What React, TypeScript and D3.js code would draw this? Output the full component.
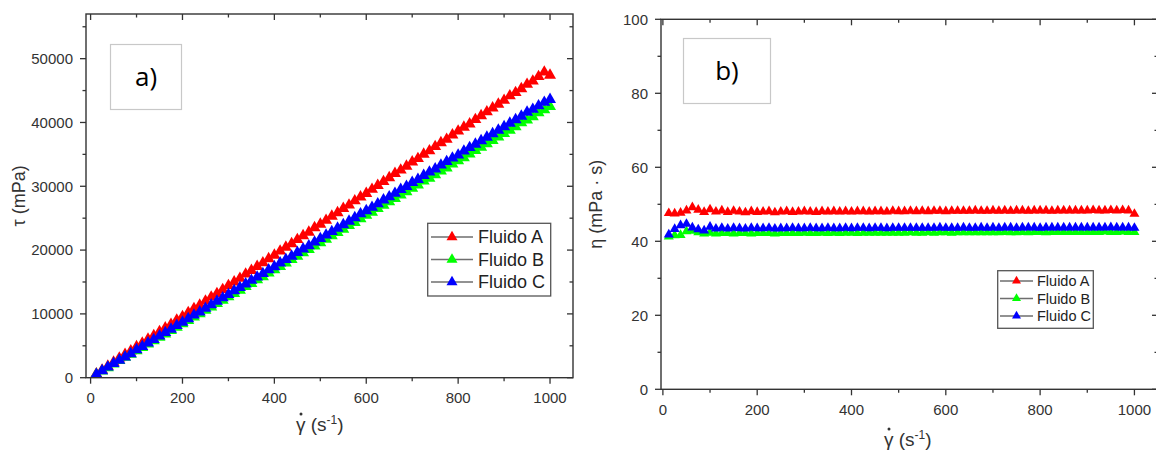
import React from 'react';
import * as d3 from 'd3';

// ---- data ----
const shearRate = [12.5, 25, 37.5, 50, 62.5, 75, 87.5, 100, 112.5, 125, 137.5, 150, 162.5, 175, 187.5, 200, 212.5, 225, 237.5, 250, 262.5, 275, 287.5, 300, 312.5, 325, 337.5, 350, 362.5, 375, 387.5, 400, 412.5, 425, 437.5, 450, 462.5, 475, 487.5, 500, 512.5, 525, 537.5, 550, 562.5, 575, 587.5, 600, 612.5, 625, 637.5, 650, 662.5, 675, 687.5, 700, 712.5, 725, 737.5, 750, 762.5, 775, 787.5, 800, 812.5, 825, 837.5, 850, 862.5, 875, 887.5, 900, 912.5, 925, 937.5, 950, 962.5, 975, 987.5, 1000];

const tauA = [595, 1188, 1789, 2415, 3075, 3638, 4191, 4860, 5400, 6038, 6586, 7230, 7800, 8365, 9019, 9580, 10200, 10823, 11353, 12000, 12626, 13173, 13800, 14430, 15000, 15568, 16234, 16800, 17436, 18000, 18639, 19200, 19841, 20443, 21000, 21645, 22246, 22800, 23498, 24050, 24651, 25305, 25854, 26510, 27056, 27715, 28318, 28860, 29523, 30125, 30728, 31330, 31999, 32535, 33138, 33810, 34343, 35018, 35548, 36225, 36829, 37355, 38036, 38640, 39244, 39765, 40451, 41055, 41659, 42263, 42866, 43470, 44165, 44678, 45281, 45980, 46489, 47190, 47900, 47400];
const tauB = [516, 1040, 1564, 2135, 2675, 3180, 3684, 4230, 4736, 5275, 5803, 6315, 6858, 7385, 7894, 8440, 8968, 9495, 9999, 10550, 11078, 11605, 12133, 12690, 13188, 13715, 14276, 14770, 15334, 15825, 16391, 16920, 17408, 17978, 18506, 19035, 19564, 20093, 20621, 21150, 21679, 22260, 22736, 23265, 23850, 24323, 24910, 25440, 25909, 26500, 27030, 27560, 28090, 28620, 29150, 29680, 30210, 30813, 31270, 31800, 32406, 32860, 33469, 34000, 34450, 35063, 35594, 36125, 36656, 37188, 37719, 38250, 38781, 39313, 39938, 40375, 40906, 41535, 41969, 42500];
const tauC = [523, 1083, 1661, 2235, 2731, 3240, 3754, 4390, 4883, 5450, 5968, 6540, 7069, 7595, 8175, 8700, 9244, 9810, 10308, 10875, 11419, 11990, 12506, 13050, 13625, 14138, 14681, 15260, 15769, 16313, 16895, 17400, 17985, 18530, 19031, 19620, 20165, 20663, 21255, 21800, 22345, 22890, 23435, 23980, 24525, 25070, 25674, 26160, 26705, 27250, 27859, 28340, 28885, 29498, 29975, 30590, 31065, 31683, 32229, 32700, 33321, 33868, 34414, 34880, 35506, 36053, 36599, 37145, 37691, 38238, 38784, 39330, 39876, 40423, 40969, 41610, 42061, 42608, 43154, 43600];

const etaA = [47.6, 47.5, 47.7, 48.3, 49.2, 48.5, 47.9, 48.6, 48.0, 48.3, 47.9, 48.2, 48.0, 47.8, 48.1, 47.9, 48.0, 48.1, 47.8, 48.0, 48.1, 47.9, 48.0, 48.1, 48.0, 47.9, 48.1, 48.0, 48.1, 48.0, 48.1, 48.0, 48.1, 48.1, 48.0, 48.1, 48.1, 48.0, 48.2, 48.1, 48.1, 48.2, 48.1, 48.2, 48.1, 48.2, 48.2, 48.1, 48.2, 48.2, 48.2, 48.2, 48.3, 48.2, 48.2, 48.3, 48.2, 48.3, 48.2, 48.3, 48.3, 48.2, 48.3, 48.3, 48.3, 48.2, 48.3, 48.3, 48.3, 48.3, 48.3, 48.3, 48.4, 48.3, 48.3, 48.4, 48.3, 48.4, 48.3, 47.4];
const etaB = [41.3, 41.6, 41.7, 42.7, 42.8, 42.4, 42.1, 42.3, 42.1, 42.2, 42.2, 42.1, 42.2, 42.2, 42.1, 42.2, 42.2, 42.2, 42.1, 42.2, 42.2, 42.2, 42.2, 42.3, 42.2, 42.2, 42.3, 42.2, 42.3, 42.2, 42.3, 42.3, 42.2, 42.3, 42.3, 42.3, 42.3, 42.3, 42.3, 42.3, 42.3, 42.4, 42.3, 42.3, 42.4, 42.3, 42.4, 42.4, 42.3, 42.4, 42.4, 42.4, 42.4, 42.4, 42.4, 42.4, 42.4, 42.5, 42.4, 42.4, 42.5, 42.4, 42.5, 42.5, 42.4, 42.5, 42.5, 42.5, 42.5, 42.5, 42.5, 42.5, 42.5, 42.5, 42.6, 42.5, 42.5, 42.6, 42.5, 42.5];
const etaC = [41.8, 43.3, 44.3, 44.7, 43.7, 43.2, 42.9, 43.9, 43.4, 43.6, 43.4, 43.6, 43.5, 43.4, 43.6, 43.5, 43.5, 43.6, 43.4, 43.5, 43.5, 43.6, 43.5, 43.5, 43.6, 43.5, 43.5, 43.6, 43.5, 43.5, 43.6, 43.5, 43.6, 43.6, 43.5, 43.6, 43.6, 43.5, 43.6, 43.6, 43.6, 43.6, 43.6, 43.6, 43.6, 43.6, 43.7, 43.6, 43.6, 43.6, 43.7, 43.6, 43.6, 43.7, 43.6, 43.7, 43.6, 43.7, 43.7, 43.6, 43.7, 43.7, 43.7, 43.6, 43.7, 43.7, 43.7, 43.7, 43.7, 43.7, 43.7, 43.7, 43.7, 43.7, 43.7, 43.8, 43.7, 43.7, 43.7, 43.6];

const seriesNames = ['Fluido A', 'Fluido B', 'Fluido C'];
const seriesColors = ['#ff0000', '#00ff00', '#0000ff'];

const rateMajor = [0, 200, 400, 600, 800, 1000];
const rateMinor = [100, 300, 500, 700, 900];
const tauMajor = [0, 10000, 20000, 30000, 40000, 50000];
const tauMinor = [5000, 15000, 25000, 35000, 45000, 55000];
const etaMajor = [0, 20, 40, 60, 80, 100];
const etaMinor = [10, 30, 50, 70, 90];

const AX = '#333333';
const FONT = 'Liberation Sans, Arial, sans-serif';

type PanelProps = {
  x: d3.ScaleLinear<number, number>;
  y: d3.ScaleLinear<number, number>;
  series: number[][];
  yMajor: number[];
  yMinor: number[];
  markerSide: number;
  yLabel: string;
  yLabelX: number;
  yLabelSize: number;
  xLabelX: number;
  xLabelY: number;
  tag: string;
  tagBox: [number, number, number, number];
  legend: { x: number; y: number; w: number; h: number; row0: number; rowStep: number; lineX0: number; lineX1: number; textX: number; fontSize: number; markerSide: number };
};

function tri(side: number) {
  return d3.symbol().type(d3.symbolTriangle).size((side * side * Math.sqrt(3)) / 4)() as string;
}

function Panel(p: PanelProps) {
  const [x0, x1] = p.x.range();
  const [y0, y1] = p.y.range();
  const fmt = d3.format('d');
  const marker = tri(p.markerSide);
  const legMarker = tri(p.legend.markerSide);
  const L = p.legend;
  return (
    <g>
      {/* data */}
      {p.series.map((vals, si) => (
        <g key={si} fill={seriesColors[si]}>
          {vals.map((v, i) => (
            <path key={i} d={marker} transform={`translate(${p.x(shearRate[i])},${p.y(v)})`} />
          ))}
        </g>
      ))}
      {/* frame */}
      <rect x={x0} y={y1} width={x1 - x0} height={y0 - y1} fill="none" stroke={AX} strokeWidth={1.4} />
      {/* bottom ticks */}
      {rateMajor.map((t) => (
        <g key={'bx' + t}>
          <line x1={p.x(t)} x2={p.x(t)} y1={y0} y2={y0 + 6} stroke={AX} strokeWidth={1.3} />
          <line x1={p.x(t)} x2={p.x(t)} y1={y1} y2={y1 + 6} stroke={AX} strokeWidth={1.3} />
          <text x={p.x(t)} y={y0 + 25.5} textAnchor="middle" fontSize={15} fill={AX} fontFamily={FONT}>{fmt(t)}</text>
        </g>
      ))}
      {rateMinor.map((t) => (
        <g key={'mx' + t}>
          <line x1={p.x(t)} x2={p.x(t)} y1={y0} y2={y0 + 3.5} stroke={AX} strokeWidth={1.3} />
          <line x1={p.x(t)} x2={p.x(t)} y1={y1} y2={y1 + 3.5} stroke={AX} strokeWidth={1.3} />
        </g>
      ))}
      {p.yMajor.map((t) => (
        <g key={'by' + t}>
          <line x1={x0 - 6} x2={x0} y1={p.y(t)} y2={p.y(t)} stroke={AX} strokeWidth={1.3} />
          <line x1={x1 - 6} x2={x1} y1={p.y(t)} y2={p.y(t)} stroke={AX} strokeWidth={1.3} />
          <text x={x0 - 13} y={p.y(t)} dy="0.36em" textAnchor="end" fontSize={15} fill={AX} fontFamily={FONT}>{fmt(t)}</text>
        </g>
      ))}
      {p.yMinor.map((t) => (
        <g key={'my' + t}>
          <line x1={x0 - 3.5} x2={x0} y1={p.y(t)} y2={p.y(t)} stroke={AX} strokeWidth={1.3} />
          <line x1={x1 - 3.5} x2={x1} y1={p.y(t)} y2={p.y(t)} stroke={AX} strokeWidth={1.3} />
        </g>
      ))}
      {/* y label */}
      <text transform={`translate(${p.yLabelX},${(y0 + y1) / 2}) rotate(-90)`} textAnchor="middle" fontSize={p.yLabelSize} fill={AX} fontFamily={FONT}>{p.yLabel}</text>
      {/* x label */}
      <g fontFamily={FONT} fill={AX}>
        <text x={p.xLabelX} y={p.xLabelY} fontSize={19}>
          γ (s<tspan dy={-7} fontSize={12}>-1</tspan><tspan dy={7}>)</tspan>
        </text>
        <circle cx={p.xLabelX + 5} cy={p.xLabelY - 17} r={1.5} fill={AX} />
      </g>
      {/* tag box */}
      <rect x={p.tagBox[0]} y={p.tagBox[1]} width={p.tagBox[2]} height={p.tagBox[3]} fill="#fff" stroke="#c8c8c8" strokeWidth={1.2} />
      <text x={p.tagBox[0] + p.tagBox[2] / 2} y={p.tagBox[1] + p.tagBox[3] / 2} dy="0.36em" textAnchor="middle" fontSize={26} fontFamily="Open Sans, sans-serif" fill="#000">{p.tag}</text>
      {/* legend */}
      <rect x={L.x} y={L.y} width={L.w} height={L.h} fill="#fff" stroke="#555" strokeWidth={1.3} />
      {seriesNames.map((n, i) => {
        const ry = L.row0 + i * L.rowStep;
        return (
          <g key={n}>
            <line x1={L.lineX0} x2={L.lineX1} y1={ry} y2={ry} stroke="#6e6e6e" strokeWidth={1.3} />
            <path d={legMarker} fill={seriesColors[i]} transform={`translate(${(L.lineX0 + L.lineX1) / 2},${ry})`} />
            <text x={L.textX} y={ry} dy="0.36em" fontSize={L.fontSize} fontFamily={FONT} fill="#222">{n}</text>
          </g>
        );
      })}
    </g>
  );
}

export default function App() {
  const xL = d3.scaleLinear().domain([-10, 1050]).range([86, 573]);
  const yL = d3.scaleLinear().domain([0, 57000]).range([377.7, 14]);
  const xR = d3.scaleLinear().domain([-4, 1050]).range([661, 1158]);
  const yR = d3.scaleLinear().domain([0, 100]).range([389.3, 19.3]);
  return (
    <svg width={1156} height={450} style={{ position: 'absolute', left: 0, top: 0, background: '#fff' }}>
      <rect width={1156} height={450} fill="#fff" />
      <Panel
        x={xL}
        y={yL}
        series={[tauA, tauB, tauC]}
        yMajor={tauMajor}
        yMinor={tauMinor}
        markerSide={12}
        yLabel="τ (mPa)"
        yLabelX={25}
        yLabelSize={18}
        xLabelX={296}
        xLabelY={431}
        tag="a)"
        tagBox={[110.5, 44.5, 71, 65]}
        legend={{ x: 427.7, y: 223.3, w: 123, h: 72.7, row0: 237, rowStep: 22.5, lineX0: 431, lineX1: 473, textX: 478, fontSize: 18, markerSide: 11 }}
      />
      <Panel
        x={xR}
        y={yR}
        series={[etaA, etaB, etaC]}
        yMajor={etaMajor}
        yMinor={etaMinor}
        markerSide={10}
        yLabel="η (mPa · s)"
        yLabelX={602}
        yLabelSize={18}
        xLabelX={884}
        xLabelY={446}
        tag="b)"
        tagBox={[683.5, 38.5, 87, 65]}
        legend={{ x: 997.7, y: 270.7, w: 95.6, h: 57.6, row0: 281, rowStep: 17.5, lineX0: 1000, lineX1: 1033, textX: 1037, fontSize: 14.5, markerSide: 9 }}
      />
    </svg>
  );
}
